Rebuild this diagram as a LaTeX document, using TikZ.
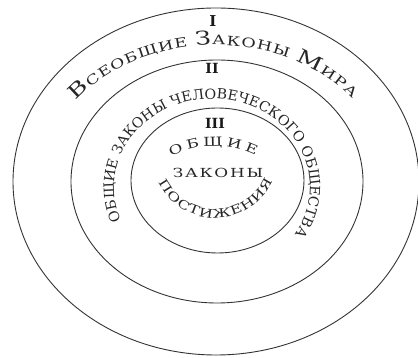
\documentclass[tikz,border=0pt]{standalone}
\usepackage{fontspec}
\setmainfont{DejaVu Serif}
\newfontfamily\wideA[FakeStretch=1.35]{DejaVu Serif}
\newfontfamily\wideB[FakeStretch=1.02]{DejaVu Serif}
\newfontfamily\wideZ[FakeStretch=1.35,LetterSpace=14]{DejaVu Serif}
\usetikzlibrary{shapes.geometric,decorations.text}
\newcommand\fbigA{\wideA\fontsize{19}{19}\selectfont}
\newcommand\fsmlA{\wideA\fontsize{13}{13}\selectfont}
\newcommand\fmidB{\wideB\fontsize{14}{14}\selectfont}
\newcommand\fsmlC{\wideA\fontsize{12.5}{12.5}\selectfont}
\newcommand\fsmlD{\wideA\fontsize{12}{12}\selectfont}
\begin{document}
\begin{tikzpicture}[x=1pt,y=1pt,
  ring/.style={ellipse,draw=black!80,line width=0.9pt,inner sep=0pt,outer sep=0pt},
  numeral/.style={font=\bfseries\fontsize{15}{15}\selectfont,text=black!90,inner sep=0pt},
  arctext/.style={decorate,decoration={text along path,text color=black!85,text align={fit to path}}}]
\useasboundingbox (0,0) rectangle (418,358);
% rings
\node[ring,minimum width=406pt,minimum height=347pt] (outer) at (216,176.5) {};
\node[ring,minimum width=292pt,minimum height=243pt] (middle) at (217,176.5) {};
\node[ring,minimum width=173pt,minimum height=145pt] (inner) at (217.5,177.5) {};
% text centres
\coordinate (c1) at (215,177);
\coordinate (c2) at (212,171);
\coordinate (c3) at (215,119);
\coordinate (c4) at (215,203);
% numerals
\node[numeral] (n1) at (213,337) {I};
\node[numeral,font=\bfseries\fontsize{14}{14}\selectfont] (n2) at (212,290) {II};
\node[numeral,font=\bfseries\fontsize{14}{14}\selectfont] (n3) at (215,235) {III};
% layer I
\path[arctext,decoration={text={|\fbigA|В|\fsmlA|СЕОБЩИЕ |\fbigA|З|\fsmlA|АКОНЫ |\fbigA|М|\fsmlA|ИРА}}]
  ([shift={(144:172pt and 136pt)}]c1) arc[start angle=144,end angle=37,x radius=172pt,y radius=136pt];
% layer II
\path[arctext,decoration={text={|\fmidB|ОБЩИЕ ЗАКОНЫ ЧЕЛОВЕЧЕСКОГО ОБЩЕСТВА}}]
  ([shift={(202:98pt and 88pt)}]c2) arc[start angle=202,end angle=-32,x radius=98pt,y radius=88pt];
% layer III
\path[arctext,decoration={text={|\fsmlC|ОБЩИЕ}}]
  ([shift={(118:93pt)}]c3) arc[start angle=118,end angle=64,radius=93pt];
\node[inner sep=0pt,text=black!85,font=\wideZ\fontsize{12.5}{12.5}\selectfont] (zak) at (218,185) {ЗАКОНЫ};
\path[arctext,decoration={text={|\fsmlD|ПОСТИЖЕНИЯ}}]
  ([shift={(206:63pt)}]c4) arc[start angle=206,end angle=336,radius=63pt];
\end{tikzpicture}
\end{document}
